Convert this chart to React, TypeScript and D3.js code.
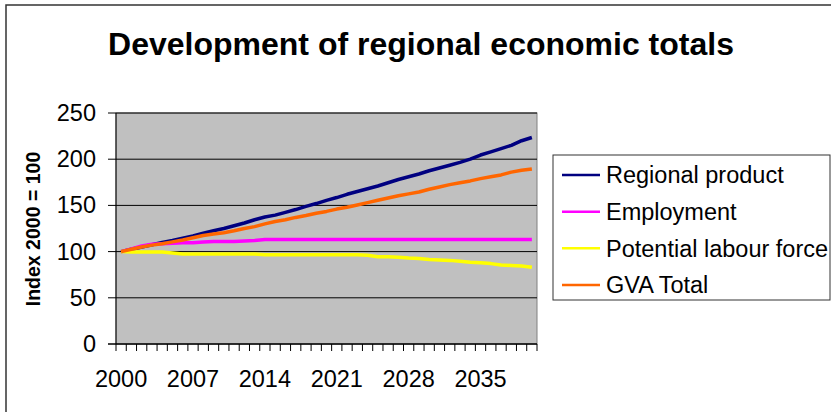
import React from "react";
import * as d3 from "d3";

const years: string[] = d3.range(2000, 2041).map(String);
const xTickLabels = ["2000", "2007", "2014", "2021", "2028", "2035"];
const yTicks = [0, 50, 100, 150, 200, 250];

const regionalProduct = [100, 102.5, 105, 107.5, 110, 112, 114.5, 117, 120, 122.5, 125, 128, 131, 134.5, 137.5, 139.5, 142.5, 145.5, 149, 152, 155.5, 158.5, 162, 165, 168, 171, 174.5, 178, 181, 184, 187.5, 190.5, 193.5, 196.5, 200, 204.5, 208, 211.5, 215, 220, 223.5];
const employment = [100, 103, 106, 108, 108.5, 109, 109.5, 109.5, 110.5, 111, 111, 111, 111.5, 112, 113, 113, 113, 113, 113, 113, 113, 113, 113, 113, 113, 113, 113, 113, 113, 113, 113, 113, 113, 113, 113, 113, 113, 113, 113, 113, 113];
const labourForce = [100, 99.5, 99.5, 99.5, 99.5, 98.5, 97.5, 97.5, 97.5, 97.5, 97.5, 97.5, 97.5, 97.5, 96.5, 96.5, 96.5, 96.5, 96.5, 96.5, 96.5, 96.5, 96.5, 96.5, 96, 94.5, 94.5, 94, 93, 92.5, 91.5, 91, 90.5, 89.5, 88.5, 88, 87, 85.5, 85, 84.5, 83];
const gvaTotal = [100, 102.5, 105, 107, 108.5, 110.5, 112.5, 115, 117.5, 119, 120.5, 122.5, 125, 127, 130, 132.5, 134.5, 137, 139, 141.5, 143.5, 146, 148, 150.5, 153, 155.5, 158, 160.5, 162.5, 164.5, 167.5, 170, 172.5, 174.5, 176.5, 179, 181, 183, 186, 188, 189.5];

const seriesNames = ["Regional product", "Employment", "Potential labour force", "GVA Total"];
const seriesColors = ["#000080", "#FF00FF", "#FFFF00", "#FF6600"];
const seriesValues = [regionalProduct, employment, labourForce, gvaTotal];

const FONT = "'Liberation Sans', Arial, sans-serif";

export default function App() {
  const left = 116, right = 537, top = 113, bottom = 344;
  const x = d3.scaleBand<string>().domain(years).range([left, right]).padding(0);
  const y = d3.scaleLinear().domain([0, 250]).range([bottom, top]);
  const bw = x.bandwidth();
  const cx = (yr: string) => (x(yr) as number) + bw / 2;

  const line = (vals: number[]) =>
    d3.line<number>().x((_, i) => cx(years[i])).y((v) => y(v))(vals) as string;

  const boundaries = d3.range(0, years.length + 1).map((i) => left + i * bw);

  const legendX = 553, legendY = 155, legendW = 277, legendH = 145;
  const legendRows = [175, 211.7, 248.3, 285];

  return (
    <svg width={831} height={412} style={{ position: "absolute", left: 0, top: 0, background: "#fff" }}>
      <rect x={0} y={0} width={831} height={412} fill="#fff" />
      <rect x={6} y={5} width={900} height={500} fill="none" stroke="#333" strokeWidth={1.5} />
      <text x={421} y={55} textAnchor="middle" fontFamily={FONT} fontWeight="bold" fontSize={32}>
        Development of regional economic totals
      </text>

      {/* plot area */}
      <rect x={left} y={top} width={right - left} height={bottom - top} fill="#C0C0C0" stroke="#808080" strokeWidth={1} />
      {yTicks.map((t) => (
        <g key={t}>
          <line x1={left} x2={right} y1={y(t)} y2={y(t)} stroke="#000" strokeWidth={1} />
          <line x1={108} x2={left} y1={y(t)} y2={y(t)} stroke="#000" strokeWidth={1} />
          <text x={96} y={y(t) + 8} textAnchor="end" fontFamily={FONT} fontSize={23.5}>{t}</text>
        </g>
      ))}
      <line x1={left} x2={left} y1={top} y2={bottom} stroke="#000" strokeWidth={1} />
      <line x1={108} x2={right} y1={bottom} y2={bottom} stroke="#000" strokeWidth={1} />
      {boundaries.map((bx, i) => (
        <line key={i} x1={bx} x2={bx} y1={bottom} y2={bottom + 7} stroke="#000" strokeWidth={1} />
      ))}
      {xTickLabels.map((lbl) => (
        <text key={lbl} x={cx(lbl)} y={387} textAnchor="middle" fontFamily={FONT} fontSize={23.5}>{lbl}</text>
      ))}
      <text transform={`translate(40,229) rotate(-90)`} textAnchor="middle" fontFamily={FONT} fontWeight="bold" fontSize={19.5}>
        Index 2000 = 100
      </text>

      {seriesValues.map((vals, i) => (
        <path key={i} d={line(vals)} fill="none" stroke={seriesColors[i]} strokeWidth={3.5} strokeLinejoin="round" />
      ))}

      {/* legend */}
      <rect x={legendX} y={legendY} width={legendW} height={legendH} fill="#fff" stroke="#333" strokeWidth={1} />
      {seriesNames.map((n, i) => (
        <g key={n}>
          <line x1={562} x2={600} y1={legendRows[i]} y2={legendRows[i]} stroke={seriesColors[i]} strokeWidth={2.5} />
          <text x={606} y={legendRows[i] + 8.3} fontFamily={FONT} fontSize={23.5}>{n}</text>
        </g>
      ))}
    </svg>
  );
}
